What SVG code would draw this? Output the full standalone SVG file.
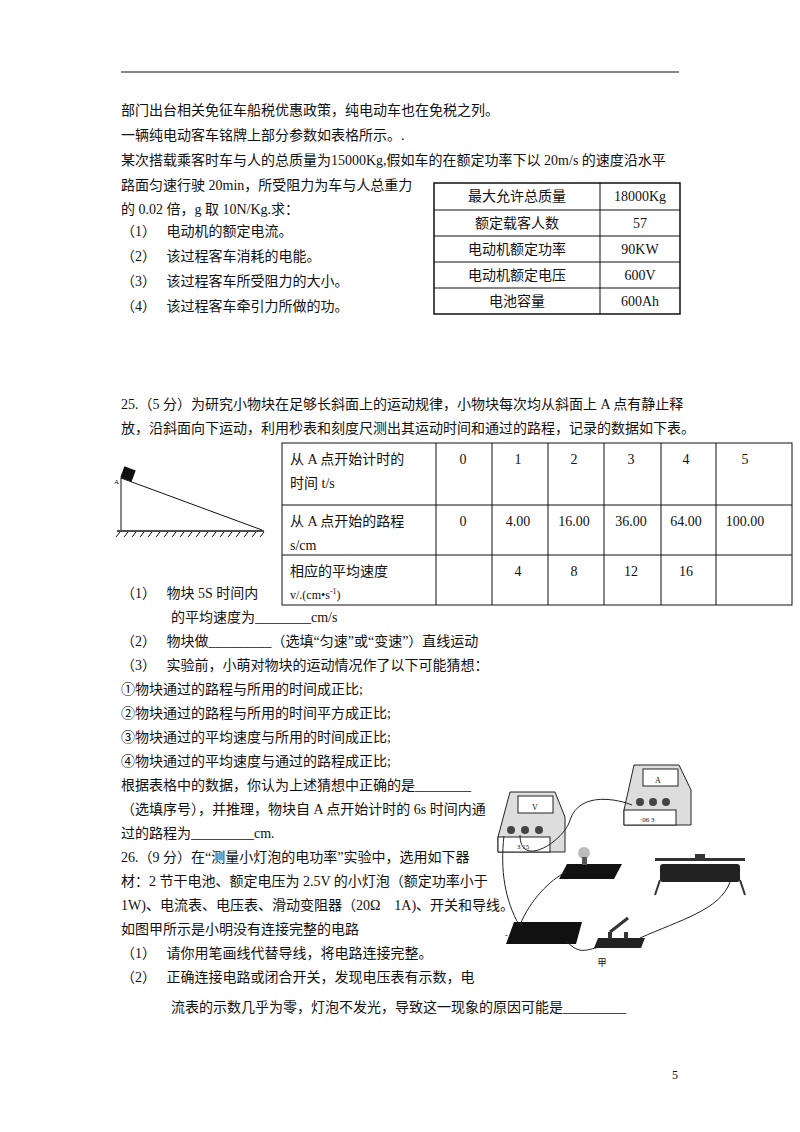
<svg xmlns="http://www.w3.org/2000/svg" width="800" height="1132" viewBox="0 0 800 1132">
<style>
text{font-family:"Liberation Serif","Noto Sans CJK SC",serif;font-size:14px;fill:#111}
.c{text-anchor:middle}
.l{stroke:#111;stroke-width:1;fill:none}
.t{stroke:#111;stroke-width:1.5;fill:none}
.w{stroke:#222;stroke-width:1;fill:none}
</style>
<rect width="800" height="1132" fill="#fff"/>
<line x1="121" y1="72" x2="679" y2="72" stroke="#111" stroke-width="1.2"/>
<text x="121" y="115">部门出台相关免征车船税优惠政策，纯电动车也在免税之列。</text>
<text x="121" y="140">一辆纯电动客车铭牌上部分参数如表格所示。.</text>
<text x="121" y="165">某次搭载乘客时车与人的总质量为15000Kg,假如车的在额定功率下以 20m/s 的速度沿水平</text>
<text x="121" y="190">路面匀速行驶 20min，所受阻力为车与人总重力</text>
<text x="121" y="214">的 0.02 倍，g 取 10N/Kg.求：</text>
<text x="121" y="236">（1）　 电动机的额定电流。</text>
<text x="121" y="261">（2）　 该过程客车消耗的电能。</text>
<text x="121" y="286">（3）　 该过程客车所受阻力的大小。</text>
<text x="121" y="311">（4）　 该过程客车牵引力所做的功。</text>
<g id="table1">
<rect x="434" y="183" width="246" height="131" class="t"/>
<line x1="600" y1="183" x2="600" y2="314" class="l"/>
<line x1="434" y1="210" x2="680" y2="210" class="l"/>
<line x1="434" y1="236" x2="680" y2="236" class="l"/>
<line x1="434" y1="262" x2="680" y2="262" class="l"/>
<line x1="434" y1="288" x2="680" y2="288" class="l"/>
<text x="517" y="201" class="c">最大允许总质量</text><text x="640" y="201" class="c">18000Kg</text>
<text x="517" y="228" class="c">额定载客人数</text><text x="640" y="228" class="c">57</text>
<text x="517" y="254" class="c">电动机额定功率</text><text x="640" y="254" class="c">90KW</text>
<text x="517" y="280" class="c">电动机额定电压</text><text x="640" y="280" class="c">600V</text>
<text x="517" y="306" class="c">电池容量</text><text x="640" y="306" class="c">600Ah</text>
</g>
<text x="121" y="409">25.（5 分）为研究小物块在足够长斜面上的运动规律，小物块每次均从斜面上 A 点有静止释</text>
<text x="121" y="433">放，沿斜面向下运动，利用秒表和刻度尺测出其运动时间和通过的路程，记录的数据如下表。</text>
<g id="incline">
<line x1="121" y1="478" x2="121" y2="530" class="l"/>
<line x1="121" y1="478" x2="262" y2="530" class="l"/>
<line x1="117" y1="531" x2="264" y2="531" class="t"/>
<path d="M120 532l-4 5M128 532l-4 5M136 532l-4 5M144 532l-4 5M152 532l-4 5M160 532l-4 5M168 532l-4 5M176 532l-4 5M184 532l-4 5M192 532l-4 5M200 532l-4 5M208 532l-4 5M216 532l-4 5M224 532l-4 5M232 532l-4 5M240 532l-4 5M248 532l-4 5M256 532l-4 5M264 532l-4 5" class="l"/>
<rect x="122" y="468" width="12" height="12" fill="#111" transform="rotate(20 128 474)"/>
<text x="114" y="484" style="font-size:7px">A</text>
</g>
<g id="table2">
<rect x="282" y="443" width="510" height="162" class="l"/>
<line x1="282" y1="505" x2="792" y2="505" class="l"/>
<line x1="282" y1="555" x2="792" y2="555" class="l"/>
<line x1="436" y1="443" x2="436" y2="605" class="l"/>
<line x1="492" y1="443" x2="492" y2="605" class="l"/>
<line x1="548" y1="443" x2="548" y2="605" class="l"/>
<line x1="604" y1="443" x2="604" y2="605" class="l"/>
<line x1="661" y1="443" x2="661" y2="605" class="l"/>
<line x1="716" y1="443" x2="716" y2="605" class="l"/>
<text x="290" y="464">从 A 点开始计时的</text><text x="290" y="488">时间 t/s</text>
<text x="463" y="464" class="c">0</text><text x="518" y="464" class="c">1</text><text x="574" y="464" class="c">2</text><text x="631" y="464" class="c">3</text><text x="686" y="464" class="c">4</text><text x="745" y="464" class="c">5</text>
<text x="290" y="526">从 A 点开始的路程</text><text x="290" y="550">s/cm</text>
<text x="463" y="526" class="c">0</text><text x="518" y="526" class="c">4.00</text><text x="574" y="526" class="c">16.00</text><text x="631" y="526" class="c">36.00</text><text x="686" y="526" class="c">64.00</text><text x="745" y="526" class="c">100.00</text>
<text x="290" y="576">相应的平均速度</text><text x="290" y="599" style="font-size:12px">v/.(cm•s<tspan dy="-5" style="font-size:8px">-1</tspan><tspan dy="5">)</tspan></text>
<text x="518" y="576" class="c">4</text><text x="574" y="576" class="c">8</text><text x="631" y="576" class="c">12</text><text x="686" y="576" class="c">16</text>
</g>
<text x="121" y="598">（1）　 物块 5S 时间内</text>
<text x="171" y="622">的平均速度为________cm/s</text>
<text x="121" y="646">（2）　 物块做_________（选填“匀速”或“变速”）直线运动</text>
<text x="121" y="670">（3）　 实验前，小萌对物块的运动情况作了以下可能猜想：</text>
<text x="121" y="694">①物块通过的路程与所用的时间成正比;</text>
<text x="121" y="718">②物块通过的路程与所用的时间平方成正比;</text>
<text x="121" y="742">③物块通过的平均速度与所用的时间成正比;</text>
<text x="121" y="766">④物块通过的平均速度与通过的路程成正比;</text>
<text x="121" y="790">根据表格中的数据，你认为上述猜想中正确的是________</text>
<text x="121" y="814">（选填序号），并推理，物块自 A 点开始计时的 6s 时间内通</text>
<text x="121" y="838">过的路程为_________cm.</text>
<text x="121" y="862">26.（9 分）在“测量小灯泡的电功率”实验中，选用如下器</text>
<text x="121" y="886">材：2 节干电池、额定电压为 2.5V 的小灯泡（额定功率小于</text>
<text x="121" y="910">1W)、电流表、电压表、滑动变阻器（20Ω　1A)、开关和导线。</text>
<text x="121" y="934">如图甲所示是小明没有连接完整的电路</text>
<text x="121" y="958">（1）　 请你用笔画线代替导线，将电路连接完整。</text>
<text x="121" y="982">（2）　 正确连接电路或闭合开关，发现电压表有示数，电</text>
<text x="171" y="1012">流表的示数几乎为零，灯泡不发光，导致这一现象的原因可能是_________</text>
<g id="circuit">
<g id="voltmeter">
<path d="M510 792h45l10 25v35h-67v-15z" fill="#ddd" stroke="#222"/>
<rect x="518" y="796" width="35" height="17" fill="#fff" stroke="#222"/>
<text x="535" y="810" class="c" style="font-size:8px">V</text>
<rect x="498" y="837" width="52" height="15" fill="#fff" stroke="#222"/>
<circle cx="511" cy="830" r="4" fill="#444"/><circle cx="525" cy="830" r="4" fill="#444"/><circle cx="539" cy="830" r="4" fill="#444"/>
<text x="517" y="849" style="font-size:7px">3   15</text>
</g>
<g id="ammeter">
<path d="M634 765h45l12 25v35h-67v-15z" fill="#ddd" stroke="#222"/>
<rect x="643" y="769" width="35" height="17" fill="#fff" stroke="#222"/>
<text x="658" y="783" class="c" style="font-size:8px">A</text>
<rect x="624" y="810" width="52" height="15" fill="#fff" stroke="#222"/>
<circle cx="640" cy="802" r="4" fill="#444"/><circle cx="653" cy="802" r="4" fill="#444"/><circle cx="666" cy="802" r="4" fill="#444"/>
<text x="640" y="822" style="font-size:7px">·06  3</text>
</g>
<g id="bulb">
<path d="M567 864h55l-8 15h-55z" fill="#111"/>
<circle cx="584" cy="853" r="6" fill="#bbb"/>
<rect x="582" y="857" width="5" height="8" fill="#555"/>
</g>
<g id="rheostat">
<rect x="655" y="858" width="90" height="3" fill="#333"/>
<rect x="660" y="864" width="80" height="18" fill="#222" rx="3"/>
<rect x="695" y="854" width="10" height="6" fill="#333"/>
<path d="M660 880l-5 15M740 880l5 15" stroke="#333" stroke-width="2"/>
</g>
<g id="battery">
<path d="M514 922h68l-6 22h-70z" fill="#111"/>
<text x="505" y="938" style="font-size:8px">-</text>
<text x="567" y="942" style="font-size:8px">+</text>
</g>
<g id="switch">
<path d="M598 938h47l-4 10h-47z" fill="#222"/>
<rect x="608" y="932" width="4" height="7" fill="#333"/><rect x="624" y="932" width="4" height="7" fill="#333"/>
<line x1="610" y1="932" x2="628" y2="918" stroke="#333" stroke-width="3"/>
</g>
<path d="M504 836C500 870 505 900 519 925" class="w"/>
<path d="M520 835C520 870 565 840 570 820C580 790 620 800 632 805" class="w"/>
<path d="M520 925C530 900 550 880 566 872" class="w"/>
<path d="M566 941C580 955 585 950 600 947" class="w"/>
<path d="M640 938C680 920 720 910 730 882" class="w"/>
<text x="602" y="966" class="c" style="font-size:9px">甲</text>
</g>
<text x="675" y="1079" class="c" style="font-size:12px">5</text>
</svg>
